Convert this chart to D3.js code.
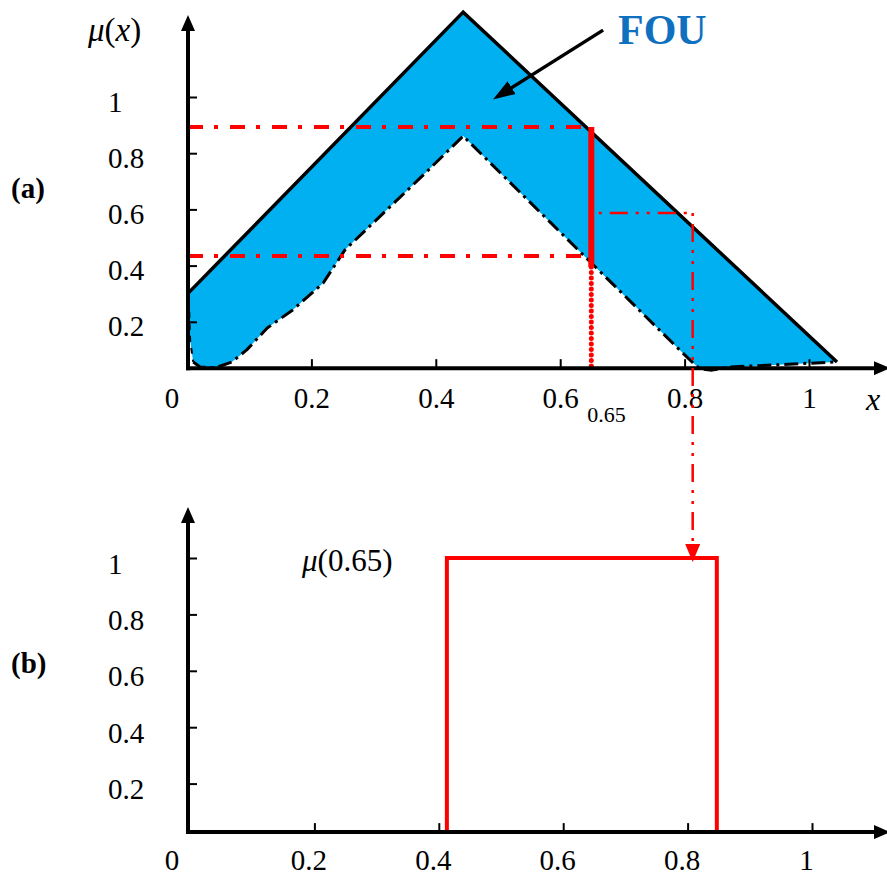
<!DOCTYPE html>
<html>
<head>
<meta charset="utf-8">
<script src="https://cdn.jsdelivr.net/npm/d3@7"></script>
<style>
  body { margin: 0; background: #fff; }
  text { font-family: "Liberation Serif", "Times New Roman", serif; fill: #000; }
</style>
</head>
<body>
<svg id="chart" width="887" height="878"></svg>
<script>
// ticks shared by both panels
var xTicks = [0.2, 0.4, 0.6, 0.8, 1];
var yTicks = [0.2, 0.4, 0.6, 0.8, 1];

// (a) upper and lower membership functions, [x, mu]
var upperMF = [[0.002, 0.302], [0.444, 1.302], [1.045, 0.057]];
var lowerMF = [
  [0.003, 0.278], [0.005, 0.135], [0.010, 0.057], [0.021, 0.039], [0.045, 0.036],
  [0.072, 0.057], [0.096, 0.100], [0.129, 0.178], [0.170, 0.242], [0.219, 0.338],
  [0.254, 0.456], [0.375, 0.712], [0.444, 0.861], [0.637, 0.438], [0.797, 0.089],
  [0.812, 0.057], [0.825, 0.032], [0.844, 0.028], [0.873, 0.039], [1.042, 0.057]
];

// vertical slice at x = 0.65
var cutX = 0.65;
var cutLevels = [0.893, 0.434];   // red dash-dot guides to the y axis
var cutSpan = [0.395, 0.893];     // thick red bar
var probeX = [0.662, 0.813];      // dash-dot-dot guide that drops into (b)
var probeMu = 0.587;

// (b) secondary membership at x = 0.65
var boxX = [0.413, 0.847];
var boxMu = 1;

// FOU annotation, in (a) data units
var fouText = [0.693, 1.19];
var fouArrow = [[0.669, 1.238], [0.511, 1.018]];

var serif = '"Liberation Serif", "Times New Roman", serif';
var svg = d3.select('#chart');
var axisX = 188;

var xa = d3.scaleLinear().domain([0, 1]).range([187, 809]);
var ya = d3.scaleLinear().domain([0, 1]).range([378, 97]);
var floorA = 0.035;
var xb = d3.scaleLinear().domain([0, 1]).range([190, 812]);
var yb = d3.scaleLinear().domain([0, 1]).range([840, 558]);
var floorB = 0.028;

/* markers */
var defs = svg.append('defs');
function marker(id, w, h, ref, color) {
  defs.append('marker')
    .attr('id', id)
    .attr('viewBox', '0 0 ' + w + ' ' + h)
    .attr('refX', ref).attr('refY', h / 2)
    .attr('markerWidth', w).attr('markerHeight', h)
    .attr('markerUnits', 'userSpaceOnUse')
    .attr('orient', 'auto')
    .append('path')
    .attr('d', 'M0,0L' + w + ',' + (h / 2) + 'L0,' + h + 'Z')
    .attr('fill', color);
}
marker('axisHead', 16, 14, 6, '#000');
marker('fouHead', 22, 15, 8, '#000');
marker('redHead', 18, 15, 6, '#ff0000');

var line = function (x, y) {
  return d3.line().x(function (d) { return x(d[0]); }).y(function (d) { return y(d[1]); });
};

/* ---------- panel (a) ---------- */
var ga = svg.append('g');

// FOU band
var band = upperMF.concat(lowerMF.slice().reverse());
ga.append('path')
  .attr('d', line(xa, ya)(band) + 'Z')
  .attr('fill', '#00b0f0');

ga.append('path')
  .attr('d', line(xa, ya)(upperMF))
  .attr('fill', 'none').attr('stroke', '#000').attr('stroke-width', 3.5);

ga.append('path')
  .attr('d', line(xa, ya)(lowerMF.slice(2)))
  .attr('fill', 'none').attr('stroke', '#000').attr('stroke-width', 3)
  .attr('stroke-linejoin', 'round')
  .attr('stroke-dasharray', '14,5,3,5');
ga.append('path')
  .attr('d', line(xa, ya)(lowerMF.slice(0, 3)))
  .attr('fill', 'none').attr('stroke', '#000').attr('stroke-width', 2)
  .attr('stroke-dasharray', '6,6');

// red guides
ga.selectAll('line.guide')
  .data(cutLevels)
  .enter().append('line')
  .attr('class', 'guide')
  .attr('x1', axisX).attr('x2', xa(cutX))
  .attr('y1', function (d) { return ya(d); })
  .attr('y2', function (d) { return ya(d); })
  .attr('stroke', '#ff0000').attr('stroke-width', 4)
  .attr('stroke-dasharray', '15,11,4,12');

ga.append('line')
  .attr('x1', xa(cutX)).attr('x2', xa(cutX))
  .attr('y1', ya(cutSpan[0])).attr('y2', ya(floorA))
  .attr('stroke', '#ff0000').attr('stroke-width', 5)
  .attr('stroke-linecap', 'round')
  .attr('stroke-dasharray', '0,5.5');

ga.append('line')
  .attr('x1', xa(cutX)).attr('x2', xa(cutX))
  .attr('y1', ya(cutSpan[1])).attr('y2', ya(cutSpan[0]))
  .attr('stroke', '#ff0000').attr('stroke-width', 6);

ga.append('line')
  .attr('x1', xa(probeX[0])).attr('x2', xa(probeX[1]))
  .attr('y1', ya(probeMu)).attr('y2', ya(probeMu))
  .attr('stroke', '#ff0000').attr('stroke-width', 2.5)
  .attr('stroke-dasharray', '3,8,18,8,3,8');

svg.append('line')
  .attr('x1', xa(probeX[1])).attr('x2', xa(probeX[1]))
  .attr('y1', ya(probeMu)).attr('y2', yb(boxMu) - 8)
  .attr('stroke', '#ff0000').attr('stroke-width', 2.5)
  .attr('stroke-dasharray', '3,8,18,8,3,8')
  .attr('marker-end', 'url(#redHead)');

// FOU label
ga.append('text')
  .attr('x', xa(fouText[0])).attr('y', ya(fouText[1]))
  .attr('font-size', 42).attr('font-weight', 'bold')
  .style('fill', '#1070c0')
  .text('FOU');
ga.append('line')
  .attr('x1', xa(fouArrow[0][0])).attr('y1', ya(fouArrow[0][1]))
  .attr('x2', xa(fouArrow[1][0])).attr('y2', ya(fouArrow[1][1]))
  .attr('stroke', '#000').attr('stroke-width', 3.5)
  .attr('marker-end', 'url(#fouHead)');

/* axes, drawn the same way for both panels */
function drawAxes(g, x, y, floor, top, labelDy, labelBase, labelShift) {
  var base = y(floor);

  var yAxis = g.append('g')
    .attr('transform', 'translate(' + axisX + ',0)')
    .call(d3.axisLeft(y).tickValues(yTicks).tickSize(-9).tickFormat(d3.format('')));
  yAxis.select('.domain').remove();
  yAxis.selectAll('.tick line').attr('stroke-width', 2);
  yAxis.selectAll('.tick text')
    .attr('x', -80).attr('dy', labelDy)
    .attr('text-anchor', 'start')
    .attr('font-size', 29);

  var xAxis = g.append('g')
    .attr('transform', 'translate(0,' + base + ')')
    .call(d3.axisBottom(x).tickValues(xTicks).tickSize(-9).tickFormat(d3.format('')));
  xAxis.select('.domain').remove();
  xAxis.selectAll('.tick line').attr('stroke-width', 2);
  xAxis.selectAll('.tick text')
    .attr('x', labelShift)
    .attr('y', labelBase).attr('dy', null)
    .attr('font-size', 29);

  g.append('line')
    .attr('x1', axisX).attr('x2', axisX)
    .attr('y1', base + 2).attr('y2', top + 10)
    .attr('stroke', '#000').attr('stroke-width', 4)
    .attr('marker-end', 'url(#axisHead)');
  g.append('line')
    .attr('x1', axisX - 2).attr('x2', 880)
    .attr('y1', base).attr('y2', base)
    .attr('stroke', '#000').attr('stroke-width', 4)
    .attr('marker-end', 'url(#axisHead)');

  g.append('text')
    .attr('x', 172).attr('y', base + labelBase)
    .attr('text-anchor', 'middle').attr('font-size', 29)
    .text('0');
}

drawAxes(ga, xa, ya, floorA, 15, 14, 40, 0);

ga.append('text')
  .attr('x', xa(cutX) - 4).attr('y', 422)
  .attr('font-size', 22)
  .text('0.65');

ga.append('text')
  .attr('x', 873).attr('y', 410)
  .attr('text-anchor', 'middle')
  .attr('font-size', 32).attr('font-style', 'italic')
  .text('x');

var muLab = ga.append('text')
  .attr('x', 88).attr('y', 41)
  .attr('font-size', 33);
muLab.append('tspan').attr('font-style', 'italic').text('\u03bc');
muLab.append('tspan').text('(');
muLab.append('tspan').attr('font-style', 'italic').text('x');
muLab.append('tspan').text(')');

svg.append('text')
  .attr('x', 11).attr('y', 198)
  .attr('font-size', 29).attr('font-weight', 'bold')
  .text('(a)');

/* ---------- panel (b) ---------- */
var gb = svg.append('g');

gb.append('path')
  .attr('d', d3.line()([
    [xb(boxX[0]), yb(floorB)], [xb(boxX[0]), yb(boxMu)],
    [xb(boxX[1]), yb(boxMu)], [xb(boxX[1]), yb(floorB)]
  ]) + 'Z')
  .attr('fill', 'none').attr('stroke', '#ff0000').attr('stroke-width', 4);

drawAxes(gb, xb, yb, floorB, 507, 15, 38, -6);

var muB = gb.append('text')
  .attr('x', 302).attr('y', 571)
  .attr('font-size', 31);
muB.append('tspan').attr('font-style', 'italic').text('\u03bc');
muB.append('tspan').text('(0.65)');

svg.append('text')
  .attr('x', 11).attr('y', 673)
  .attr('font-size', 29).attr('font-weight', 'bold')
  .text('(b)');

// d3.axis puts its own font on the tick groups; use the serif face everywhere
svg.selectAll('g').attr('font-family', null);
svg.selectAll('text').style('font-family', serif);
</script>
</body>
</html>
